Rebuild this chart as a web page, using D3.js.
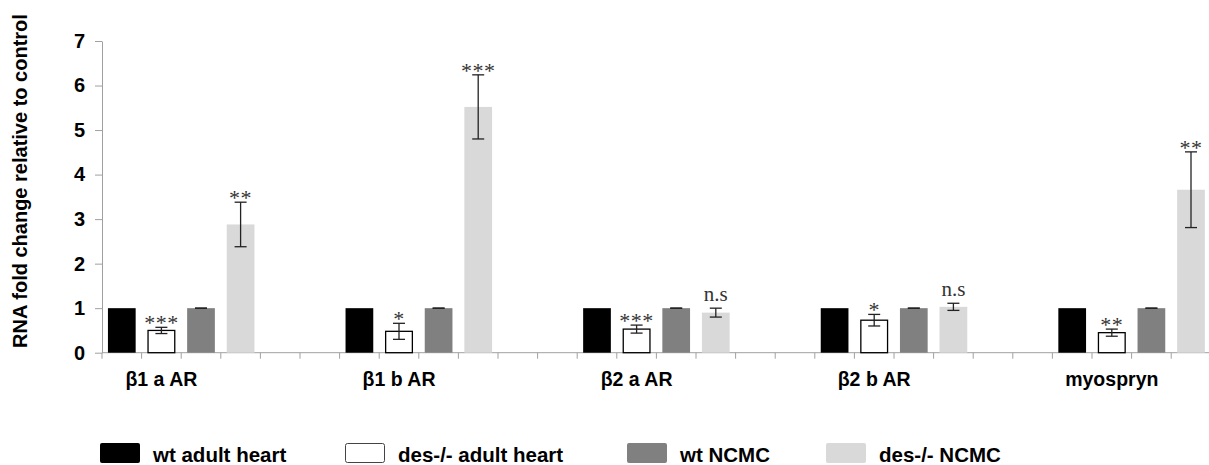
<!DOCTYPE html>
<html>
<head>
<meta charset="utf-8">
<script src="https://cdn.jsdelivr.net/npm/d3@7"></script>
<style>
  body { margin: 0; background: #fff; }
  text { font-family: "Liberation Sans", Arial, sans-serif; }
</style>
</head>
<body>
<div id="chart"></div>
<script>
// data
const categories = ["β1 a AR", "β1 b AR", "β2 a AR", "β2 b AR", "myospryn"];
const seriesNames = ["wt adult heart", "des-/- adult heart", "wt NCMC", "des-/- NCMC"];
const seriesColors = ["#000000", "#ffffff", "#808080", "#d9d9d9"];

const wtHeart = [1, 1, 1, 1, 1];
const desHeart = [0.50, 0.48, 0.53, 0.73, 0.45];
const desHeartErr = [0.07, 0.18, 0.09, 0.13, 0.08];
const wtNcmc = [1, 1, 1, 1, 1];
const desNcmc = [2.88, 5.52, 0.90, 1.03, 3.66];
const desNcmcErr = [0.50, 0.72, 0.10, 0.08, 0.85];

const desHeartSig = ["***", "*", "***", "*", "**"];
const desNcmcSig = ["**", "***", "n.s", "n.s", "**"];

const yTicks = [0, 1, 2, 3, 4, 5, 6, 7];

// canvas
const W = 1209, H = 465;
const x0 = 102, y0 = 352.7, yTop = 41;
const slotW = 39.6;

const svg = d3.select("#chart")
    .append("svg")
    .attr("width", W)
    .attr("height", H);

// scales: each category gets 6 slots (4 bars + 2 empty)
const x = d3.scaleBand()
    .domain(categories)
    .range([x0, x0 + categories.length * 6 * slotW]);

const slot = d3.scaleBand()
    .domain(d3.range(6))
    .range([0, x.bandwidth()])
    .paddingInner(0.3)
    .paddingOuter(0.15);

const y = d3.scaleLinear()
    .domain([0, 7])
    .range([y0, yTop]);

// y axis
const yAxis = svg.append("g")
    .attr("transform", `translate(${x0},0)`)
    .call(d3.axisLeft(y).tickValues(yTicks).tickFormat(d3.format("d"))
        .tickSize(7).tickPadding(10).tickSizeOuter(0));
yAxis.select(".domain").attr("stroke", "#a0a0a0");
yAxis.selectAll(".tick line").attr("stroke", "#a0a0a0");
yAxis.selectAll(".tick text")
    .attr("fill", "#000")
    .style("font-size", "20px")
    .style("font-weight", "bold")
    .style("font-family", "'Liberation Sans', Arial, sans-serif");

svg.append("text")
    .attr("transform", `translate(27,${(10 + 352) / 2}) rotate(-90)`)
    .attr("text-anchor", "middle")
    .style("font-size", "20px")
    .style("font-weight", "bold")
    .text("RNA fold change relative to control");

// x axis line and slot ticks
const xTicks = [];
categories.forEach(c => {
    for (let i = 0; i < 6; i++) xTicks.push(x(c) + i * slot.step());
});
svg.append("line")
    .attr("x1", x0).attr("x2", W)
    .attr("y1", y0).attr("y2", y0)
    .attr("stroke", "#a0a0a0");
svg.selectAll(".xtick")
    .data(xTicks)
    .enter()
    .append("line")
    .attr("class", "xtick")
    .attr("x1", d => d).attr("x2", d => d)
    .attr("y1", y0).attr("y2", y0 + 6)
    .attr("stroke", "#a0a0a0");

// bars
const seriesData = [
    { vals: wtHeart, errs: null },
    { vals: desHeart, errs: desHeartErr, sig: desHeartSig },
    { vals: wtNcmc, errs: [0, 0, 0, 0, 0] },
    { vals: desNcmc, errs: desNcmcErr, sig: desNcmcSig }
];

const bars = [];
seriesData.forEach((s, si) => {
    categories.forEach((c, ci) => {
        bars.push({ si, c, v: s.vals[ci], e: s.errs ? s.errs[ci] : null, sig: s.sig ? s.sig[ci] : null });
    });
});

svg.selectAll(".bar")
    .data(bars)
    .enter()
    .append("rect")
    .attr("class", "bar")
    .attr("x", d => x(d.c) + slot(d.si) + (d.si === 1 ? 0.5 : 0))
    .attr("y", d => y(d.v))
    .attr("width", d => slot.bandwidth() - (d.si === 1 ? 1 : 0))
    .attr("height", d => y0 - y(d.v))
    .attr("fill", d => seriesColors[d.si])
    .attr("stroke", d => d.si === 1 ? "#000" : "none")
    .attr("stroke-width", 1.3);

// error bars
const errBars = bars.filter(d => d.e !== null);
const cap = 6;
const eg = svg.selectAll(".err")
    .data(errBars)
    .enter()
    .append("g")
    .attr("class", "err")
    .attr("stroke", "#222")
    .attr("stroke-width", 1.3);
const cx = d => x(d.c) + slot(d.si) + slot.bandwidth() / 2;
eg.append("line")
    .attr("x1", cx).attr("x2", cx)
    .attr("y1", d => y(d.v + d.e)).attr("y2", d => y(d.v - d.e));
eg.append("line")
    .attr("x1", d => cx(d) - cap).attr("x2", d => cx(d) + cap)
    .attr("y1", d => y(d.v + d.e)).attr("y2", d => y(d.v + d.e));
eg.append("line")
    .attr("x1", d => cx(d) - cap).attr("x2", d => cx(d) + cap)
    .attr("y1", d => y(d.v - d.e)).attr("y2", d => y(d.v - d.e));

// significance marks
svg.selectAll(".sig")
    .data(errBars.filter(d => d.sig))
    .enter()
    .append("text")
    .attr("class", "sig")
    .attr("x", cx)
    .attr("y", d => d.sig === "n.s" ? y(d.v + d.e) - 7 : y(d.v + d.e) + 3)
    .attr("text-anchor", "middle")
    .style("font-family", "'Liberation Serif', 'Times New Roman', serif")
    .style("font-size", d => d.sig === "n.s" ? "21px" : "22px")
    .style("letter-spacing", d => d.sig === "n.s" ? "0px" : "0.5px")
    .attr("fill", "#333")
    .text(d => d.sig);

// category labels
svg.selectAll(".cat")
    .data(categories)
    .enter()
    .append("text")
    .attr("class", "cat")
    .attr("x", d => x(d) + slot.step() * 1.5)
    .attr("y", 386)
    .attr("text-anchor", "middle")
    .style("font-size", "19.5px")
    .style("font-weight", "bold")
    .text(d => d);

// legend
const legendX = [100, 345, 627, 826];
const lg = svg.selectAll(".legend")
    .data(seriesNames)
    .enter()
    .append("g")
    .attr("class", "legend")
    .attr("transform", (d, i) => `translate(${legendX[i]},443)`);
lg.append("rect")
    .attr("x", (d, i) => i === 1 ? 0.5 : 0)
    .attr("y", (d, i) => i === 1 ? 0.5 : 0)
    .attr("width", (d, i) => i === 1 ? 39 : 40)
    .attr("height", (d, i) => i === 1 ? 19 : 20)
    .attr("rx", 2)
    .attr("fill", (d, i) => seriesColors[i])
    .attr("stroke", (d, i) => i === 1 ? "#444" : "none");
lg.append("text")
    .attr("x", 53)
    .attr("y", 19)
    .style("font-size", "20.5px")
    .style("font-weight", "bold")
    .text(d => d);
</script>
</body>
</html>
